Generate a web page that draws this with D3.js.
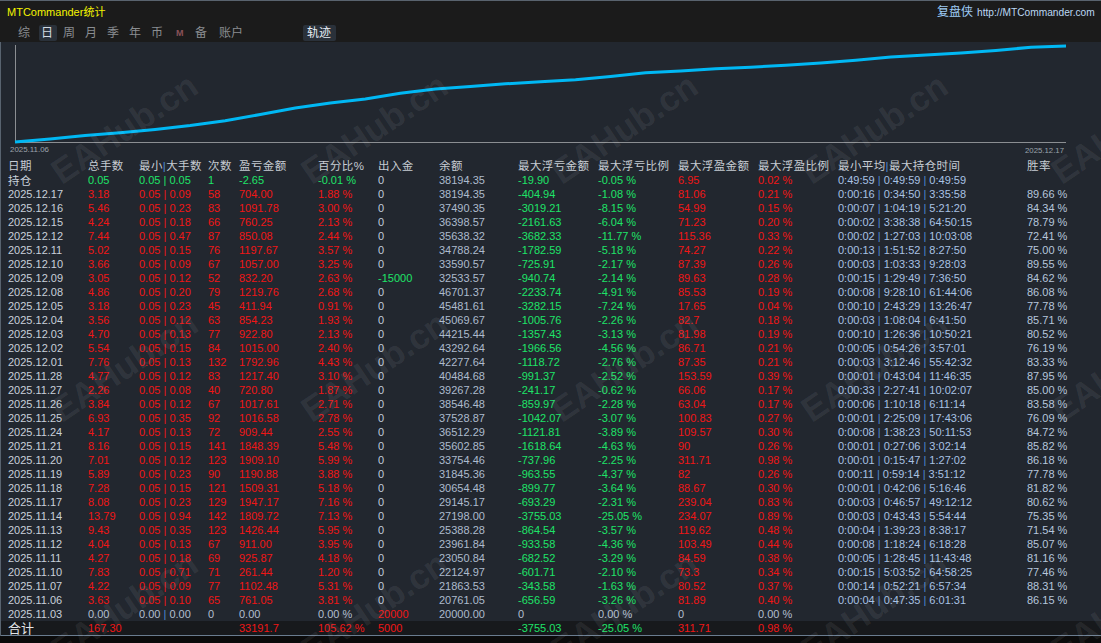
<!DOCTYPE html>
<html>
<head>
<meta charset="utf-8">
<script src="https://cdn.jsdelivr.net/npm/d3@7"></script>
<style>
body { margin: 0; background: #22272f; overflow: hidden; }
text { font-family: "Liberation Sans", Arial, "Noto Sans CJK SC", sans-serif; }
.cjk { font-family: "Noto Sans CJK SC", "Liberation Sans", sans-serif; }
</style>
</head>
<body>
<svg id="chart" width="1101" height="643"></svg>
<script>
// ---- data ----
var dates = ['持仓', '2025.12.17', '2025.12.16', '2025.12.15', '2025.12.12', '2025.12.11', '2025.12.10',
  '2025.12.09', '2025.12.08', '2025.12.05', '2025.12.04', '2025.12.03', '2025.12.02', '2025.12.01',
  '2025.11.28', '2025.11.27', '2025.11.26', '2025.11.25', '2025.11.24', '2025.11.21', '2025.11.20',
  '2025.11.19', '2025.11.18', '2025.11.17', '2025.11.14', '2025.11.13', '2025.11.12', '2025.11.11',
  '2025.11.10', '2025.11.07', '2025.11.06', '2025.11.03'];

var lots = [0.05, 3.18, 5.46, 4.24, 7.44, 5.02, 3.66, 3.05, 4.86, 3.18, 3.56, 4.70, 5.54, 7.76, 4.77, 2.26,
  3.84, 6.93, 4.17, 8.16, 7.01, 5.89, 7.28, 8.08, 13.79, 9.43, 4.04, 4.27, 7.83, 4.22, 3.63, 0.00];
var minLot = [0.05, 0.05, 0.05, 0.05, 0.05, 0.05, 0.05, 0.05, 0.05, 0.05, 0.05, 0.05, 0.05, 0.05, 0.05, 0.05,
  0.05, 0.05, 0.05, 0.05, 0.05, 0.05, 0.05, 0.05, 0.05, 0.05, 0.05, 0.05, 0.05, 0.05, 0.05, 0.00];
var maxLot = [0.05, 0.09, 0.23, 0.18, 0.47, 0.15, 0.09, 0.12, 0.20, 0.23, 0.12, 0.13, 0.15, 0.13, 0.12, 0.08,
  0.12, 0.35, 0.13, 0.15, 0.12, 0.23, 0.15, 0.23, 0.94, 0.35, 0.13, 0.18, 0.71, 0.09, 0.10, 0.00];
var trades = [1, 58, 83, 66, 87, 76, 67, 52, 79, 45, 63, 77, 84, 132, 83, 40, 67, 92, 72, 141, 123, 90, 121,
  129, 142, 123, 67, 69, 71, 77, 65, 0];
var profit = [-2.65, 704.00, 1091.78, 760.25, 850.08, 1197.67, 1057.00, 832.20, 1219.76, 411.94, 854.23,
  922.80, 1015.00, 1792.96, 1217.40, 720.80, 1017.61, 1016.58, 909.44, 1848.39, 1909.10, 1190.88, 1509.31,
  1947.17, 1809.72, 1426.44, 911.00, 925.87, 261.44, 1102.48, 761.05, 0.00];
var pct = [-0.01, 1.88, 3.00, 2.13, 2.44, 3.57, 3.25, 2.63, 2.68, 0.91, 1.93, 2.13, 2.40, 4.43, 3.10, 1.87,
  2.71, 2.78, 2.55, 5.48, 5.99, 3.88, 5.18, 7.16, 7.13, 5.95, 3.95, 4.18, 1.20, 5.31, 3.81, 0.00];
var flow = [0, 0, 0, 0, 0, 0, 0, -15000, 0, 0, 0, 0, 0, 0, 0, 0, 0, 0, 0, 0, 0, 0, 0, 0, 0, 0, 0, 0, 0, 0, 0, 20000];
var balance = [38194.35, 38194.35, 37490.35, 36398.57, 35638.32, 34788.24, 33590.57, 32533.57, 46701.37,
  45481.61, 45069.67, 44215.44, 43292.64, 42277.64, 40484.68, 39267.28, 38546.48, 37528.87, 36512.29,
  35602.85, 33754.46, 31845.36, 30654.48, 29145.17, 27198.00, 25388.28, 23961.84, 23050.84, 22124.97,
  21863.53, 20761.05, 20000.00];
var maxLoss = [-19.90, -404.94, -3019.21, -2161.63, -3682.33, -1782.59, -725.91, -940.74, -2233.74, -3282.15,
  -1005.76, -1357.43, -1966.56, -1118.72, -991.37, -241.17, -859.97, -1042.07, -1121.81, -1618.64, -737.96,
  -963.55, -899.77, -693.29, -3755.03, -864.54, -933.58, -682.52, -601.71, -343.58, -656.59, 0];
var maxLossPct = [-0.05, -1.08, -8.15, -6.04, -11.77, -5.18, -2.17, -2.14, -4.91, -7.24, -2.26, -3.13, -4.56,
  -2.76, -2.52, -0.62, -2.28, -3.07, -3.89, -4.63, -2.25, -4.37, -3.64, -2.31, -25.05, -3.57, -4.36, -3.29,
  -2.10, -1.63, -3.26, 0.00];
var maxGain = ['6.95', '81.06', '54.99', '71.23', '115.36', '74.27', '87.39', '89.63', '85.53', '17.65', '82.7',
  '81.98', '86.71', '87.35', '153.59', '66.06', '63.04', '100.83', '109.57', '90', '311.71', '82', '88.67',
  '239.04', '234.07', '119.62', '103.49', '84.59', '73.3', '80.52', '81.89', '0'];
var maxGainPct = [0.02, 0.21, 0.15, 0.20, 0.33, 0.22, 0.26, 0.28, 0.19, 0.04, 0.18, 0.19, 0.21, 0.21, 0.39,
  0.17, 0.17, 0.27, 0.30, 0.26, 0.98, 0.26, 0.30, 0.83, 0.89, 0.48, 0.44, 0.38, 0.34, 0.37, 0.40, 0.00];
var holdMin = ['0:49:59', '0:00:16', '0:00:07', '0:00:02', '0:00:02', '0:00:13', '0:00:03', '0:00:15', '0:00:08',
  '0:00:10', '0:00:03', '0:00:10', '0:00:05', '0:00:03', '0:00:01', '0:00:33', '0:00:06', '0:00:01', '0:00:08',
  '0:00:01', '0:00:01', '0:00:11', '0:00:01', '0:00:03', '0:00:03', '0:00:04', '0:00:08', '0:00:05', '0:00:15',
  '0:00:14', '0:00:04', ''];
var holdAvg = ['0:49:59', '0:34:50', '1:04:19', '3:38:38', '1:27:03', '1:51:52', '1:03:33', '1:29:49', '9:28:10',
  '2:43:29', '1:08:04', '1:26:36', '0:54:26', '3:12:46', '0:43:04', '2:27:41', '1:10:18', '2:25:09', '1:38:23',
  '0:27:06', '0:15:47', '0:59:14', '0:42:06', '0:46:57', '0:43:43', '1:39:23', '1:18:24', '1:28:45', '5:03:52',
  '0:52:21', '0:47:35', ''];
var holdMax = ['0:49:59', '3:35:58', '5:21:20', '64:50:15', '10:03:08', '8:27:50', '9:28:03', '7:36:50', '61:44:06',
  '13:26:47', '6:41:50', '10:50:21', '3:57:01', '55:42:32', '11:46:35', '10:02:07', '6:11:14', '17:43:06',
  '50:11:53', '3:02:14', '1:27:02', '3:51:12', '5:16:46', '49:12:12', '5:54:44', '8:38:17', '6:18:28',
  '11:43:48', '64:58:25', '6:57:34', '6:01:31', ''];
var winRate = ['', '89.66 %', '84.34 %', '78.79 %', '72.41 %', '75.00 %', '89.55 %', '84.62 %', '86.08 %',
  '77.78 %', '85.71 %', '80.52 %', '76.19 %', '83.33 %', '87.95 %', '85.00 %', '83.58 %', '76.09 %', '84.72 %',
  '85.82 %', '86.18 %', '77.78 %', '81.82 %', '80.62 %', '75.35 %', '71.54 %', '85.07 %', '81.16 %', '77.46 %',
  '88.31 %', '86.15 %', ''];

var totals = ['合计', '167.30', '', '', '33191.7', '105.62 %', '5000', '', '-3755.03', '-25.05 %', '311.71', '0.98 %', '', ''];

var headers = ['日期', '总手数', '最小|大手数', '次数', '盈亏金额', '百分比%', '出入金', '余额', '最大浮亏金额',
  '最大浮亏比例', '最大浮盈金额', '最大浮盈比例', '最小平均|最大持仓时间', '胜率'];

// equity trajectory, cumulative profit sampled evenly along the x axis
var curveProfit = [0, 1037, 2213, 3215, 4322, 5670, 7330, 9508, 11755, 13484, 14867, 16872, 18359, 19223,
  20122, 20814, 21540, 22646, 23926, 24582, 25343, 25828, 26553, 27349, 28282, 29354, 30046, 30806, 31671,
  32742, 33192];
var curveLabels = ['2025.11.06', '2025.12.17'];

var tabs = ['综', '日', '周', '月', '季', '年', '币', 'M', '备', '账户'];

// ---- drawing ----
var RED = '#f01616', GREEN = '#1ee368', GRAY = '#b2bfd0', PIPE = '#4f89d2';
var colX = [8, 88, 139, 208, 239, 318, 378, 439, 518, 598, 678, 758, 838, 1027];

var svg = d3.select('#chart');

svg.append('rect').attr('width', 1101).attr('height', 643).attr('fill', '#22272f');

// top bar
svg.append('rect').attr('width', 1101).attr('height', 42).attr('fill', '#1b1b1b');
svg.append('rect').attr('width', 1101).attr('height', 1).attr('fill', '#59636e');
svg.append('text').attr('x', 7).attr('y', 12).attr('dy', '0.36em')
  .attr('font-size', 11).attr('fill', '#f4f400').text('MTCommander统计');
svg.append('text').attr('x', 937).attr('y', 12).attr('dy', '0.36em').attr('class', 'cjk')
  .attr('font-size', 12).attr('fill', '#9ecbf5').text('复盘侠');
svg.append('text').attr('x', 977).attr('y', 12).attr('dy', '0.36em')
  .attr('font-size', 10.2).attr('fill', '#bcd8f4').text('http://MTCommander.com');

var tabX = [18, 41, 63, 85, 107, 129, 151, 176, 195, 219];
svg.append('rect').attr('x', 39).attr('y', 25).attr('width', 18).attr('height', 16).attr('rx', 2).attr('fill', '#2a313a');
svg.append('rect').attr('x', 303).attr('y', 25).attr('width', 33).attr('height', 16).attr('rx', 2).attr('fill', '#2a313a');
svg.selectAll('text.tab').data(tabs).enter().append('text')
  .attr('class', function(d) { return d == 'M' ? 'tab' : 'tab cjk'; })
  .attr('x', function(d, i) { return tabX[i]; })
  .attr('y', 33).attr('dy', '0.36em')
  .attr('font-size', function(d) { return d == 'M' ? 9 : 12; })
  .attr('font-weight', function(d) { return d == 'M' ? 'bold' : 'normal'; })
  .attr('fill', function(d) { return d == '日' ? '#d4dbe3' : d == 'M' ? '#8a5258' : '#8a8d91'; })
  .text(function(d) { return d; });
svg.append('text').attr('class', 'cjk').attr('x', 307).attr('y', 33).attr('dy', '0.36em')
  .attr('font-size', 12).attr('fill', '#e6edf4').text('轨迹');

// trajectory chart
var x = d3.scaleLinear().domain([0, curveProfit.length - 1]).range([15, 1066]);
var y = d3.scaleLinear().domain([0, 33191.7]).range([142, 46]);

var axis = svg.append('g').attr('stroke', '#8b8e92').attr('stroke-width', 1);
axis.append('line').attr('x1', 15.5).attr('x2', 15.5).attr('y1', 45).attr('y2', 142.5);
axis.append('line').attr('x1', 15).attr('x2', 1066).attr('y1', 142.5).attr('y2', 142.5);

svg.append('path').datum(curveProfit)
  .attr('fill', 'none').attr('stroke', '#00b8f4').attr('stroke-width', 3)
  .attr('d', d3.line().x(function(d, i) { return x(i); }).y(function(d) { return y(d); }));

svg.append('text').attr('x', 10).attr('y', 149.5).attr('dy', '0.36em').attr('font-size', 8)
  .attr('fill', '#9ba3ac').attr('textLength', 39).attr('lengthAdjust', 'spacingAndGlyphs').text(curveLabels[0]);
svg.append('text').attr('x', 1025).attr('y', 150).attr('dy', '0.36em').attr('font-size', 8)
  .attr('fill', '#9ba3ac').attr('textLength', 39).attr('lengthAdjust', 'spacingAndGlyphs').text(curveLabels[1]);

// table
svg.append('rect').attr('x', 0).attr('y', 621).attr('width', 1101).attr('height', 15).attr('fill', '#17191c');
svg.append('rect').attr('x', 0).attr('y', 636).attr('width', 1101).attr('height', 7).attr('fill', '#0b0b0b');
svg.append('rect').attr('x', 0).attr('y', 635).attr('width', 1101).attr('height', 1).attr('fill', '#6a7c8f');
svg.append('rect').attr('x', 0).attr('y', 42).attr('width', 1).attr('height', 594).attr('fill', '#58636f');

// header row
var head = svg.append('g').attr('class', 'cjk').attr('font-size', 11.5).attr('fill', '#c6ccd3')
  .attr('letter-spacing', 0.4);
headers.forEach(function(h, i) {
  var t = head.append('text').attr('x', colX[i]).attr('y', 166).attr('dy', '0.36em');
  h.split('|').forEach(function(p, j) {
    if (j > 0) t.append('tspan').attr('fill', PIPE).attr('font-family', 'Liberation Sans').text('|');
    t.append('tspan').text(p);
  });
});

function signColor(v) { return v > 0 ? RED : v < 0 ? GREEN : GRAY; }
function f2(v) { return v.toFixed(2); }

var rowY = d3.scaleLinear().domain([0, dates.length - 1]).range([180.5, 614]);

var rows = dates.map(function(d, i) {
  var c = signColor(profit[i]);
  var last = i == dates.length - 1;
  return [
    [{ t: d, c: '#c8d0da', cjk: i == 0 }],
    [{ t: f2(lots[i]), c: c }],
    [{ t: f2(minLot[i]) + ' ', c: c }, { t: '|', c: c == GRAY ? PIPE : c }, { t: ' ' + f2(maxLot[i]), c: c }],
    [{ t: String(trades[i]), c: c }],
    [{ t: f2(profit[i]), c: c }],
    [{ t: f2(pct[i]) + ' %', c: c }],
    [{ t: String(flow[i]), c: flow[i] > 0 ? RED : flow[i] < 0 ? GREEN : '#c0cbdb' }],
    [{ t: f2(balance[i]), c: '#adbbcd' }],
    [{ t: maxLoss[i] == 0 ? '0' : f2(maxLoss[i]), c: maxLoss[i] < 0 ? GREEN : GRAY }],
    [{ t: f2(maxLossPct[i]) + ' %', c: maxLossPct[i] < 0 ? GREEN : GRAY }],
    [{ t: maxGain[i], c: +maxGain[i] > 0 ? RED : GRAY }],
    [{ t: f2(maxGainPct[i]) + ' %', c: maxGainPct[i] > 0 ? RED : GRAY }],
    last ? [] : [{ t: holdMin[i] + ' ', c: '#a9c2e4' }, { t: '|', c: PIPE }, { t: ' ' + holdAvg[i] + ' ', c: '#a9c2e4' },
      { t: '|', c: PIPE }, { t: ' ' + holdMax[i], c: '#a9c2e4' }],
    [{ t: winRate[i], c: '#b6c6dc' }]
  ];
});

var body = svg.append('g').attr('font-size', 11);
rows.forEach(function(cells, i) {
  cells.forEach(function(parts, k) {
    if (!parts.length) return;
    var t = body.append('text').attr('x', colX[k]).attr('y', rowY(i)).attr('dy', '0.36em')
      .attr('xml:space', 'preserve');
    if (parts[0].cjk) t.attr('class', 'cjk').attr('font-size', 11.5).attr('letter-spacing', 0.4);
    parts.forEach(function(p) { t.append('tspan').attr('fill', p.c).text(p.t); });
  });
});

// total row
var totalColor = [ '#e4e6e8', RED, RED, RED, RED, RED, RED, GRAY, GREEN, GREEN, RED, RED, GRAY, GRAY ];
totals.forEach(function(v, k) {
  if (!v) return;
  var t = body.append('text').attr('x', colX[k]).attr('y', 628.5).attr('dy', '0.36em')
    .attr('fill', totalColor[k]).text(v);
  if (k == 0) t.attr('class', 'cjk').attr('font-size', 13);
});

// watermark
var wmX = [124, 374, 624, 874, 1124];
var wmY = [128, 366, 606];
var wm = svg.append('g').attr('fill', '#ffffff').attr('fill-opacity', 0.08)
  .attr('font-size', 35).attr('font-weight', 'bold');
wmY.forEach(function(yy) {
  wmX.forEach(function(xx) {
    wm.append('text').attr('text-anchor', 'middle').attr('dy', '0.36em')
      .attr('transform', 'translate(' + xx + ',' + yy + ') rotate(-34)').text('EAHub.cn');
  });
});
</script>
</body>
</html>
